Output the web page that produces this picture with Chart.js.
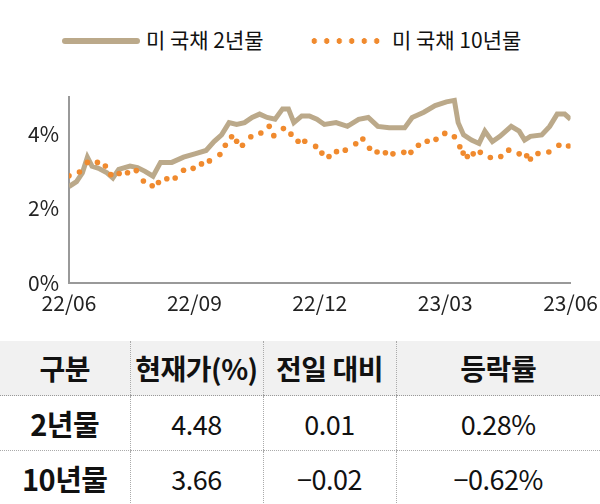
<!DOCTYPE html>
<html><head><meta charset="utf-8">
<script src="https://cdn.jsdelivr.net/npm/chart.js@4"></script>
<style>
body{margin:0;width:600px;height:504px;overflow:hidden;background:#fff;font-family:"Noto Sans CJK KR","Noto Sans",sans-serif;color:#111}
#legend{position:absolute;top:22px;left:0;width:600px;height:36px;font-size:21px}
.sw{position:absolute;top:0}
#wrap{position:absolute;top:60px;left:0;width:600px;height:270px}
table{position:absolute;top:341px;left:0;width:600px;border-collapse:collapse;table-layout:fixed}
td{text-align:center;height:54px;padding:0;font-size:27px;border-bottom:1px dotted #aaa;border-left:1px dotted #aaa;letter-spacing:-0.5px}
td:first-child{border-left:none;font-weight:bold;font-size:29px}
tr:first-child td{background:#f1f1f1;font-weight:bold;font-size:28px;border-bottom:1px dotted #999}
tr:last-child td{border-bottom:none}
</style></head><body>
<div id="legend">
<div class="sw" style="left:62px;top:16px;width:78px;height:6px;border-radius:3px;background:#bba98a"></div>
<div class="sw" style="left:146px;top:2px">미 국채 2년물</div>
<div class="sw" style="left:308px;top:16px;width:76px;height:6px;background:radial-gradient(circle,#f08a2e 2.6px,transparent 3px) 0 0/12.5px 6px repeat-x"></div>
<div class="sw" style="left:392px;top:2px">미 국채 10년물</div>
</div>
<div id="wrap"><canvas id="c" width="600" height="270"></canvas></div>
<table id="t"></table>
<script>
const xTickLabels=["22/06","22/09","22/12","23/03","23/06"];
const months2y=[0,.18,.32,.44,.55,.73,.91,1.05,1.19,1.46,1.64,1.82,2.01,2.19,2.46,2.74,3.01,3.28,3.47,3.65,3.83,4.01,4.20,4.38,4.56,4.74,4.93,5.11,5.25,5.38,5.57,5.75,5.93,6.11,6.39,6.66,6.93,7.16,7.39,7.66,7.85,8.03,8.21,8.49,8.76,9.03,9.22,9.31,9.44,9.63,9.81,9.95,10.13,10.31,10.58,10.77,10.90,11.04,11.31,11.50,11.68,11.86,12];
const yield2y=[2.59,2.72,2.96,3.38,3.14,3.07,2.96,2.82,3.05,3.14,3.10,3.00,2.87,3.24,3.24,3.38,3.47,3.56,3.80,3.98,4.31,4.26,4.31,4.45,4.54,4.45,4.40,4.68,4.68,4.31,4.49,4.49,4.40,4.26,4.31,4.21,4.40,4.45,4.21,4.17,4.17,4.17,4.45,4.59,4.77,4.87,4.91,4.31,3.98,3.84,3.75,4.08,3.80,3.94,4.21,4.08,3.84,3.94,3.98,4.21,4.54,4.54,4.40];
const months10y=[0,.25,.44,.68,.87,1.00,1.20,1.40,1.61,1.78,1.99,2.14,2.34,2.54,2.74,2.97,3.17,3.36,3.61,3.74,3.89,4.01,4.15,4.35,4.59,4.79,4.90,5.13,5.31,5.48,5.64,5.90,6.05,6.22,6.40,6.61,6.86,7.03,7.19,7.37,7.57,7.75,8.01,8.18,8.36,8.57,8.78,8.99,9.22,9.35,9.43,9.53,9.67,9.84,10.08,10.33,10.52,10.77,10.95,11.04,11.22,11.48,11.72,11.95];
const yield10y=[2.88,2.98,3.24,3.24,3.14,2.91,2.94,2.96,3.02,2.74,2.61,2.70,2.80,2.82,3.03,3.08,3.20,3.28,3.45,3.70,3.93,3.81,3.70,3.93,4.03,4.21,3.96,4.15,4.00,3.81,3.81,3.67,3.49,3.40,3.53,3.57,3.74,3.87,3.62,3.52,3.50,3.47,3.51,3.51,3.70,3.81,3.86,4.02,3.93,3.66,3.49,3.40,3.47,3.51,3.37,3.40,3.57,3.47,3.42,3.33,3.48,3.52,3.70,3.68];
const tableHeader=["구분","현재가(%)","전일 대비","등락률"];
const tableRows=[["2년물","4.48","0.01","0.28%"],["10년물","3.66","−0.02","−0.62%"]];

const t=document.getElementById('t');
t.innerHTML='<colgroup><col style="width:130px"><col style="width:133px"><col style="width:133px"><col style="width:204px"></colgroup>'+
 [tableHeader,...tableRows].map(r=>'<tr>'+r.map(c=>'<td>'+c+'</td>').join('')+'</tr>').join('');

new Chart(document.getElementById('c'),{
 type:'scatter',
 data:{datasets:[
  {data:months2y.map((m,i)=>({x:m,y:yield2y[i]})),showLine:true,borderColor:'#bba98a',borderWidth:5,pointRadius:0,tension:0,order:2},
  {data:months10y.map((m,i)=>({x:m,y:yield10y[i]})),showLine:false,backgroundColor:'#f08a2e',pointRadius:2.8,pointBorderWidth:0,order:1}
 ]},
 options:{responsive:false,animation:false,
  layout:{padding:{top:37,right:0,left:20,bottom:12}},
  plugins:{legend:{display:false},tooltip:{enabled:false}},
  scales:{
   x:{type:'linear',min:0,max:12,
      ticks:{stepSize:3,color:'#222',font:{size:21,family:'Noto Sans CJK KR'},maxRotation:0,autoSkip:false,padding:2,
        callback:v=>xTickLabels[v/3]},
      grid:{display:false,drawTicks:true,tickLength:6,tickColor:'#999'},border:{color:'#999',width:2}},
   y:{min:0,max:5,afterFit:a=>{a.width=49},
      ticks:{stepSize:2,color:'#222',font:{size:21,family:'Noto Sans CJK KR'},padding:4,callback:v=>v%2===0?v+'%':''},
      grid:{display:false,tickLength:6,tickColor:'#999'},border:{color:'#999',width:2}}
  }}
});
</script></body></html>
